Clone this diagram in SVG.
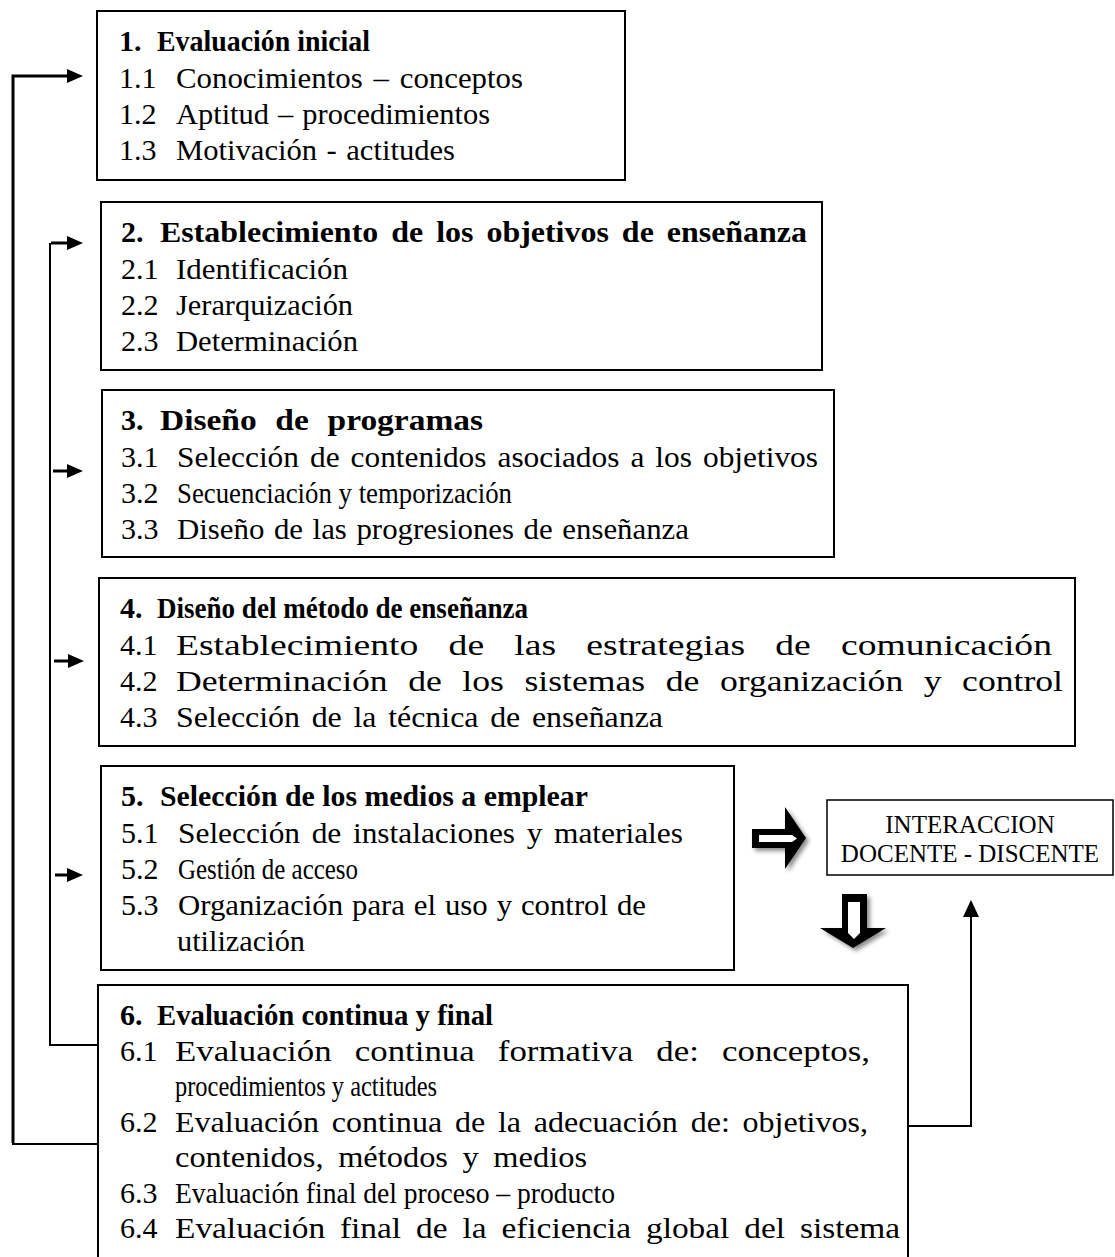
<svg xmlns="http://www.w3.org/2000/svg" width="1115" height="1257" viewBox="0 0 1115 1257">
<style>
  .box { fill: #fff; stroke: #000; stroke-width: 2; }
  .t { font-family: "Liberation Serif", "Times New Roman", serif; font-size: 30px; fill: #000; }
  .b { font-weight: bold; }
  .s { font-family: "Liberation Serif", "Times New Roman", serif; font-size: 25px; fill: #000; text-anchor: middle; }
  .ln { fill: none; stroke: #000; stroke-width: 2; }
  .ar { fill: none; stroke: #000; stroke-width: 3; }
</style>
<defs>
  <marker id="ah" markerUnits="userSpaceOnUse" markerWidth="16" markerHeight="14" refX="1" refY="7" orient="auto">
    <path d="M0,0 L16,7 L0,14 z" fill="#000"/>
  </marker>
  <filter id="sh" x="-30%" y="-30%" width="160%" height="160%">
    <feDropShadow dx="3" dy="3" stdDeviation="2" flood-color="#000" flood-opacity="0.45"/>
  </filter>
</defs>

<g id="connectors">
  <polyline class="ar" points="13,1143 13,76 68,76" marker-end="url(#ah)"/>
  <line class="ln" x1="12" y1="1144" x2="98" y2="1144"/>
  <polyline class="ln" points="98,1045 50,1045 50,243"/>
  <line class="ar" x1="51" y1="243" x2="68" y2="243" marker-end="url(#ah)"/>
  <line class="ar" x1="53" y1="471" x2="68" y2="471" marker-end="url(#ah)"/>
  <line class="ar" x1="54" y1="661" x2="69" y2="661" marker-end="url(#ah)"/>
  <line class="ar" x1="55" y1="875" x2="68" y2="875" marker-end="url(#ah)"/>
  <polyline class="ln" points="908,1126 971,1126 971,917"/>
  <path d="M963,917 L971,900 L979,917 z" fill="#000"/>
  <g filter="url(#sh)">
    <path d="M752,829 L785,829 L785,807 L806,838 L785,869 L785,848 L752,848 z" fill="#000"/>
    <path d="M759,835 L792,835 L797,838.5 L792,842 L759,842 z" fill="#fff"/>
  </g>
  <g filter="url(#sh)">
    <path d="M842,894 L867,894 L867,928 L886,928 L853,948 L820,928 L842,928 z" fill="#000"/>
    <path d="M848,902 L860,902 L860,933 L854,939 L848,933 z" fill="#fff"/>
  </g>
</g>

<g id="node1">
  <rect class="box" x="97" y="11" width="528" height="169"/>
  <text class="t b" y="51"><tspan x="119">1.</tspan><tspan x="157" textLength="213" lengthAdjust="spacingAndGlyphs">Evaluación inicial</tspan></text>
  <text class="t" y="88"><tspan x="119">1.1</tspan><tspan x="176" word-spacing="3" textLength="347" lengthAdjust="spacingAndGlyphs">Conocimientos – conceptos</tspan></text>
  <text class="t" y="124"><tspan x="119">1.2</tspan><tspan x="176" word-spacing="1.4" textLength="314" lengthAdjust="spacingAndGlyphs">Aptitud – procedimientos</tspan></text>
  <text class="t" y="160"><tspan x="119">1.3</tspan><tspan x="176" word-spacing="1.8" textLength="279" lengthAdjust="spacingAndGlyphs">Motivación - actitudes</tspan></text>
</g>

<g id="node2">
  <rect class="box" x="101" y="202" width="721" height="168"/>
  <text class="t b" y="242"><tspan x="121">2.</tspan><tspan x="160" word-spacing="4.7" textLength="647" lengthAdjust="spacingAndGlyphs">Establecimiento de los objetivos de enseñanza</tspan></text>
  <text class="t" y="279"><tspan x="121">2.1</tspan><tspan x="176" textLength="172" lengthAdjust="spacingAndGlyphs">Identificación</tspan></text>
  <text class="t" y="315"><tspan x="121">2.2</tspan><tspan x="176" textLength="177" lengthAdjust="spacingAndGlyphs">Jerarquización</tspan></text>
  <text class="t" y="351"><tspan x="121">2.3</tspan><tspan x="176" textLength="182" lengthAdjust="spacingAndGlyphs">Determinación</tspan></text>
</g>

<g id="node3">
  <rect class="box" x="102" y="390" width="732" height="167"/>
  <text class="t b" y="430"><tspan x="121">3.</tspan><tspan x="160" word-spacing="9.3" textLength="323" lengthAdjust="spacingAndGlyphs">Diseño de programas</tspan></text>
  <text class="t" y="467"><tspan x="121">3.1</tspan><tspan x="177" word-spacing="3" textLength="641" lengthAdjust="spacingAndGlyphs">Selección de contenidos asociados a los objetivos</tspan></text>
  <text class="t" y="503"><tspan x="121">3.2</tspan><tspan x="177" textLength="335" lengthAdjust="spacingAndGlyphs">Secuenciación y temporización</tspan></text>
  <text class="t" y="539"><tspan x="121">3.3</tspan><tspan x="177" word-spacing="1.8" textLength="512" lengthAdjust="spacingAndGlyphs">Diseño de las progresiones de enseñanza</tspan></text>
</g>

<g id="node4">
  <rect class="box" x="99" y="578" width="976" height="168"/>
  <text class="t b" y="618"><tspan x="120">4.</tspan><tspan x="157" textLength="371" lengthAdjust="spacingAndGlyphs">Diseño del método de enseñanza</tspan></text>
  <text class="t" y="655"><tspan x="120">4.1</tspan><tspan x="176" word-spacing="16.6" textLength="876" lengthAdjust="spacingAndGlyphs">Establecimiento de las estrategias de comunicación</tspan></text>
  <text class="t" y="691"><tspan x="120">4.2</tspan><tspan x="176" word-spacing="9.8" textLength="887" lengthAdjust="spacingAndGlyphs">Determinación de los sistemas de organización y control</tspan></text>
  <text class="t" y="727"><tspan x="120">4.3</tspan><tspan x="176" word-spacing="3.5" textLength="487" lengthAdjust="spacingAndGlyphs">Selección de la técnica de enseñanza</tspan></text>
</g>

<g id="node5">
  <rect class="box" x="101" y="766" width="633" height="204"/>
  <text class="t b" y="806"><tspan x="121">5.</tspan><tspan x="160" textLength="428" lengthAdjust="spacingAndGlyphs">Selección de los medios a emplear</tspan></text>
  <text class="t" y="843"><tspan x="121">5.1</tspan><tspan x="178" word-spacing="3.6" textLength="505" lengthAdjust="spacingAndGlyphs">Selección de instalaciones y materiales</tspan></text>
  <text class="t" y="879"><tspan x="121">5.2</tspan><tspan x="178" textLength="180" lengthAdjust="spacingAndGlyphs">Gestión de acceso</tspan></text>
  <text class="t" y="915"><tspan x="121">5.3</tspan><tspan x="178" word-spacing="1.2" textLength="468" lengthAdjust="spacingAndGlyphs">Organización para el uso y control de</tspan></text>
  <text class="t" y="951"><tspan x="177" textLength="128" lengthAdjust="spacingAndGlyphs">utilización</tspan></text>
</g>

<g id="node6">
  <rect class="box" x="98" y="985" width="810" height="300"/>
  <text class="t b" y="1025"><tspan x="120">6.</tspan><tspan x="157" textLength="336" lengthAdjust="spacingAndGlyphs">Evaluación continua y final</tspan></text>
  <text class="t" y="1061"><tspan x="120">6.1</tspan><tspan x="175" word-spacing="12.5" textLength="695" lengthAdjust="spacingAndGlyphs">Evaluación continua formativa de: conceptos,</tspan></text>
  <text class="t" y="1096"><tspan x="175" textLength="262" lengthAdjust="spacingAndGlyphs">procedimientos y actitudes</tspan></text>
  <text class="t" y="1132"><tspan x="120">6.2</tspan><tspan x="175" word-spacing="4.5" textLength="693" lengthAdjust="spacingAndGlyphs">Evaluación continua de la adecuación de: objetivos,</tspan></text>
  <text class="t" y="1167"><tspan x="175" word-spacing="6" textLength="412" lengthAdjust="spacingAndGlyphs">contenidos, métodos y medios</tspan></text>
  <text class="t" y="1203"><tspan x="120">6.3</tspan><tspan x="175" textLength="440" lengthAdjust="spacingAndGlyphs">Evaluación final del proceso – producto</tspan></text>
  <text class="t" y="1238"><tspan x="120">6.4</tspan><tspan x="175" word-spacing="5.9" textLength="725" lengthAdjust="spacingAndGlyphs">Evaluación final de la eficiencia global del sistema</tspan></text>
</g>

<g id="node7">
  <rect class="box" x="827" y="800" width="286" height="75" style="stroke-width:1.5"/>
  <text class="s" x="970" y="833">INTERACCION</text>
  <text class="s" x="970" y="862">DOCENTE - DISCENTE</text>
</g>
</svg>
